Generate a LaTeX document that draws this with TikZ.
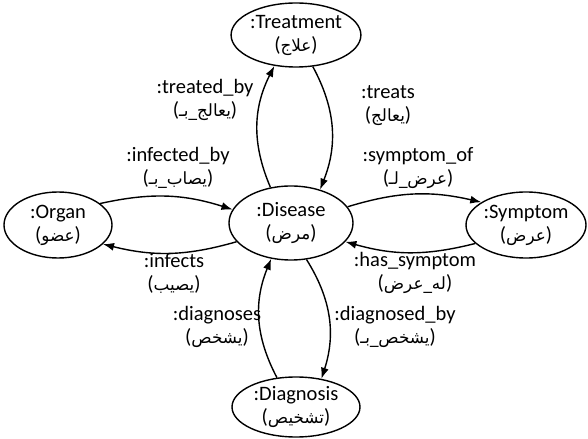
\documentclass[tikz,border=0pt]{standalone}
\usepackage{fontspec}
\setmainfont{Carlito}
\newfontfamily\arfont[Script=Arabic,Scale=0.82]{DejaVu Sans}
\TeXXeTstate=1
\usetikzlibrary{shapes.geometric,arrows.meta}
\newcommand\arb[1]{({\arfont\beginR #1\endR})}
\begin{document}
\begin{tikzpicture}[x=1bp,y=-1bp,
  every node/.style={font=\fontsize{20.5bp}{23bp}\selectfont},
  ent/.style={draw,ellipse,line width=1.4bp,inner sep=0pt,align=center},
  lbl/.style={align=center,inner sep=0pt},
  rel/.style={line width=1.4bp,-{Latex[length=11bp,width=8bp]}}]
\useasboundingbox (0,0) rectangle (588,439);
\node[ent,minimum width=128bp,minimum height=64bp] (tr) at (296,35) {:Treatment\\\arb{علاج}};
\node[ent,minimum width=108bp,minimum height=66bp] (org) at (58,225) {:Organ\\\arb{عضو}};
\node[ent,minimum width=124bp,minimum height=74bp] (dis) at (291,223) {:Disease\\\arb{مرض}};
\node[ent,minimum width=120bp,minimum height=66bp] (sym) at (526,225) {:Symptom\\\arb{عرض}};
\node[ent,minimum width=128bp,minimum height=60bp] (dia) at (296,407) {:Diagnosis\\\arb{تشخيص}};

\draw[rel] (dis.120) to[bend left=25] (tr.235);
\draw[rel] (tr.298) to[bend left=25] (dis.49);
\draw[rel] (org.27) to[bend left=15] (dis.167);
\draw[rel] (dis.199) to[bend left=15] (org.337);
\draw[rel] (dis.16) to[bend left=15] (sym.153);
\draw[rel] (sym.200) to[bend left=15] (dis.341);
\draw[rel] (dia.123) to[bend left=25] (dis.241);
\draw[rel] (dis.293) to[bend left=25] (dia.48);

\node[lbl] (l1) at (205,100) {:treated\_by\\\arb{يعالج\_بـ}};
\node[lbl] (l2) at (388,106) {:treats\\\arb{يعالج}};
\node[lbl] (l3) at (178,168) {:infected\_by\\\arb{يصاب\_بـ}};
\node[lbl] (l4) at (418,168) {:symptom\_of\\\arb{عرض\_لـ}};
\node[lbl] (l5) at (174,273) {:infects\\\arb{يصيب}};
\node[lbl] (l6) at (415,273) {:has\_symptom\\\arb{له\_عرض}};
\node[lbl] (l7) at (217,327) {:diagnoses\\\arb{يشخص}};
\node[lbl] (l8) at (395,327) {:diagnosed\_by\\\arb{يشخص\_بـ}};
\end{tikzpicture}
\end{document}
